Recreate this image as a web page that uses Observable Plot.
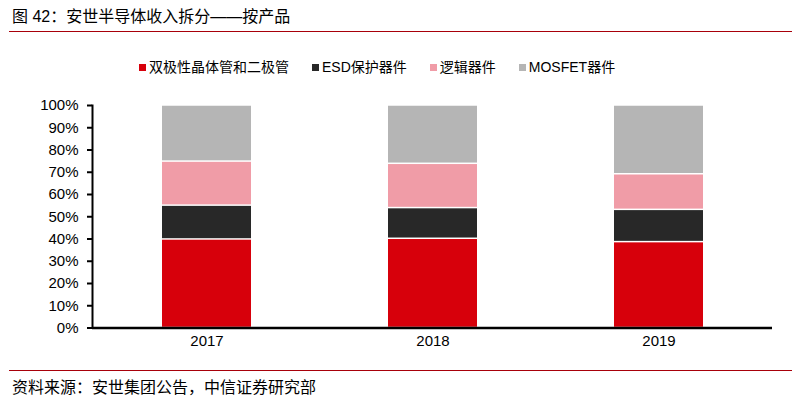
<!DOCTYPE html>
<html>
<head>
<meta charset="utf-8">
<script src="https://cdn.jsdelivr.net/npm/d3@7"></script>
<script src="https://cdn.jsdelivr.net/npm/@observablehq/plot@0.6"></script>
<style>
  html, body { margin: 0; padding: 0; background: #fff; }
  body { width: 792px; height: 404px; position: relative; overflow: hidden;
         font-family: "Liberation Sans", "Noto Sans CJK SC", sans-serif; color: #000; }
  #title { position: absolute; left: 12px; top: 6px; font-size: 16px; line-height: 22px; }
  #titleline { position: absolute; left: 9px; right: 0; top: 31px; height: 0; border-top: 1.5px solid #a8000a; }
  #legend { position: absolute; left: 139px; top: 58px; display: flex; gap: 23px; font-size: 14px; line-height: 18px; }
  #legend .item { display: flex; align-items: center; }
  #legend .sw { width: 7px; height: 7px; margin-right: 3px; }
  #chart { position: absolute; left: 0; top: 80px; }
  #footline { position: absolute; left: 9px; right: 0; top: 370px; height: 0; border-top: 1.5px solid #a8000a; }
  #source { position: absolute; left: 12px; top: 377px; font-size: 16px; line-height: 22px; }
</style>
</head>
<body>
<div id="title">图 42：安世半导体收入拆分——按产品</div>
<div id="titleline"></div>
<div id="legend"></div>
<div id="chart"></div>
<div id="footline"></div>
<div id="source">资料来源：安世集团公告，中信证券研究部</div>
<script>
const years = ["2017", "2018", "2019"];
const seriesNames = ["双极性晶体管和二极管", "ESD保护器件", "逻辑器件", "MOSFET器件"];
const seriesColors = ["#d7000b", "#282828", "#f09ca7", "#b5b5b5"];
const bipolar = [39.8, 40.1, 38.6];
const esd = [15.2, 13.8, 14.5];
const logic = [19.8, 19.9, 16.0];
const mosfet = [25.2, 26.2, 30.9];
const yTicks = [0, 10, 20, 30, 40, 50, 60, 70, 80, 90, 100];

const valuesBySeries = [bipolar, esd, logic, mosfet];
const data = seriesNames.flatMap((s, i) =>
  years.map((y, j) => ({ series: s, year: y, value: valuesBySeries[i][j] })));

// legend
const legend = document.getElementById("legend");
seriesNames.forEach((s, i) => {
  const it = document.createElement("div");
  it.className = "item";
  const sw = document.createElement("span");
  sw.className = "sw";
  sw.style.background = seriesColors[i];
  const tx = document.createElement("span");
  tx.textContent = s;
  it.appendChild(sw); it.appendChild(tx);
  legend.appendChild(it);
});

const chart = Plot.plot({
  width: 792,
  height: 280,
  marginLeft: 92,
  marginRight: 20,
  marginTop: 25,
  marginBottom: 32.5,
  style: { fontFamily: "Liberation Sans, Noto Sans CJK SC, sans-serif", fontSize: "14px", color: "#000", background: "transparent" },
  x: { domain: years, paddingInner: 0.607, paddingOuter: 0.3035, label: null },
  y: { domain: [0, 100], label: null },
  color: { domain: seriesNames, range: seriesColors },
  marks: [
    Plot.barY(data, { x: "year", y: "value", fill: "series", insetTop: 0.75, insetBottom: 0.75 }),
    Plot.axisX({ tickSize: 0, tickPadding: 7, fontSize: 15, label: null }),
    Plot.axisY({ ticks: yTicks, tickFormat: d => d + "%", tickSize: 5, tickPadding: 9, strokeWidth: 2, fontSize: 15, label: null }),
    Plot.ruleY([0], { strokeWidth: 2.5, stroke: "#000" }),
    Plot.frame({ anchor: "left", strokeWidth: 2, stroke: "#000" })
  ]
});
document.getElementById("chart").appendChild(chart);
</script>
</body>
</html>
